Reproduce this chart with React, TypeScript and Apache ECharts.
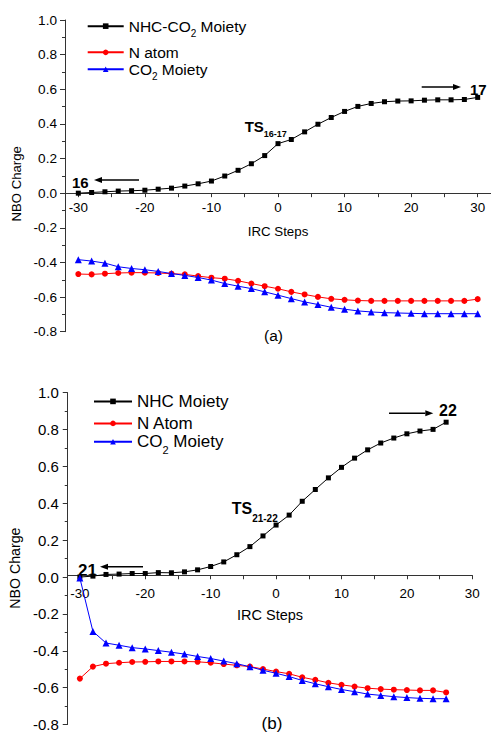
import React, { useEffect, useRef } from 'react';
import * as echarts from 'echarts';

// ---------- Data: panel (a) ----------
const stepsA = [-30, -28, -26, -24, -22, -20, -18, -16, -14, -12, -10, -8, -6, -4, -2, 0, 2, 4, 6, 8, 10, 12, 14, 16, 18, 20, 22, 24, 26, 28, 30];
const nhcA = [0.0, 0.004, 0.008, 0.012, 0.014, 0.017, 0.023, 0.029, 0.041, 0.054, 0.07, 0.099, 0.132, 0.17, 0.217, 0.286, 0.31, 0.354, 0.398, 0.437, 0.472, 0.501, 0.518, 0.528, 0.532, 0.533, 0.537, 0.539, 0.539, 0.541, 0.553];
const nAtomA = [-0.467, -0.469, -0.465, -0.461, -0.459, -0.459, -0.461, -0.465, -0.469, -0.479, -0.488, -0.494, -0.506, -0.522, -0.537, -0.552, -0.57, -0.585, -0.599, -0.61, -0.616, -0.62, -0.622, -0.622, -0.622, -0.622, -0.622, -0.622, -0.622, -0.622, -0.612];
const co2A = [-0.384, -0.392, -0.404, -0.425, -0.435, -0.442, -0.452, -0.464, -0.475, -0.487, -0.502, -0.522, -0.537, -0.551, -0.57, -0.589, -0.609, -0.628, -0.643, -0.659, -0.67, -0.68, -0.686, -0.69, -0.692, -0.694, -0.696, -0.696, -0.696, -0.696, -0.696];

// ---------- Data: panel (b) ----------
const stepsB = [-30, -28, -26, -24, -22, -20, -18, -16, -14, -12, -10, -8, -6, -4, -2, 0, 2, 4, 6, 8, 10, 12, 14, 16, 18, 20, 22, 24, 26];
const nhcB = [0.0, 0.005, 0.014, 0.016, 0.019, 0.019, 0.024, 0.023, 0.028, 0.039, 0.057, 0.082, 0.121, 0.165, 0.223, 0.282, 0.336, 0.411, 0.475, 0.538, 0.595, 0.645, 0.69, 0.727, 0.754, 0.777, 0.792, 0.801, 0.84];
const nAtomB = [-0.551, -0.486, -0.47, -0.465, -0.461, -0.46, -0.458, -0.458, -0.458, -0.46, -0.465, -0.472, -0.479, -0.486, -0.499, -0.513, -0.525, -0.544, -0.558, -0.574, -0.585, -0.594, -0.603, -0.608, -0.611, -0.613, -0.615, -0.615, -0.626];
const co2B = [-0.005, -0.295, -0.358, -0.37, -0.383, -0.39, -0.399, -0.408, -0.418, -0.431, -0.442, -0.456, -0.47, -0.487, -0.506, -0.522, -0.54, -0.561, -0.579, -0.595, -0.61, -0.622, -0.635, -0.642, -0.649, -0.654, -0.658, -0.66, -0.66];

// ---------- Axis ticks / labels ----------
const xLabelValues = [-30, -20, -10, 0, 10, 20, 30];
const xTickValues = [-30, -25, -20, -15, -10, -5, 0, 5, 10, 15, 20, 25, 30];
const yMin = -0.8;
const yMax = 1.0;
const yInterval = 0.2;

// ---------- Series names ----------
const seriesNamesA = ['a-nhc', 'a-n', 'a-co2'];
const seriesNamesB = ['b-nhc', 'b-n', 'b-co2'];
const legendLabels: Record<string, string> = {
  'a-nhc': '{m|NHC-CO}{s|2}{m| Moiety}',
  'a-n': '{m|N atom}',
  'a-co2': '{m|CO}{s|2}{m| Moiety}',
  'b-nhc': '{m|NHC Moiety}',
  'b-n': '{m|N Atom}',
  'b-co2': '{m|CO}{s|2}{m| Moiety}',
};

const FONT = 'Liberation Sans, Arial, Helvetica, sans-serif';
const AXIS_COLOR = '#333';
const COLORS = ['#000000', '#ff0000', '#0000ff'];
const SYMBOLS = ['rect', 'circle', 'triangle'];
const SYMBOL_SIZES = [5, 6, 7];

// grid geometry
const GRID_A = { left: 65, top: 20, width: 426, height: 311.7 };
const GRID_B = { left: 61.7, top: 392.7, width: 410.6, height: 335.8 };

function fmtY(v: number) {
  if (Math.abs(v) < 1e-9) return '0.0';
  return v.toFixed(1);
}

// distance (px) from grid bottom up to the y = 0 line
function zeroOffset(height: number) {
  return -height * (0 - yMin) / (yMax - yMin);
}

function makeXAxis(gridIndex: number, min: number, max: number, gridHeight: number, labelSize: number, margin: number, nameSize: number, nameGap: number) {
  return {
    gridIndex,
    type: 'value',
    position: 'bottom',
    offset: zeroOffset(gridHeight),
    min,
    max,
    axisLine: { show: true, onZero: false, lineStyle: { color: AXIS_COLOR, width: 1 } },
    axisTick: { show: true, customValues: xTickValues, length: 4, lineStyle: { color: AXIS_COLOR, width: 1 } },
    axisLabel: { customValues: xLabelValues, margin, fontSize: labelSize, color: '#000', fontFamily: FONT },
    splitLine: { show: false },
    name: 'IRC Steps',
    nameLocation: 'middle',
    nameGap,
    nameTextStyle: { fontSize: nameSize, color: '#000', fontFamily: FONT },
  };
}

function makeYAxis(gridIndex: number, labelSize: number, margin: number, nameSize: number, nameGap: number, shift: number) {
  return {
    gridIndex,
    type: 'value',
    min: yMin,
    max: yMax,
    interval: yInterval,
    axisLine: { show: true, onZero: false, lineStyle: { color: AXIS_COLOR, width: 1 } },
    axisTick: { show: true, length: 5, lineStyle: { color: AXIS_COLOR, width: 1 } },
    minorTick: { show: true, splitNumber: 2, length: 3, lineStyle: { color: AXIS_COLOR, width: 1 } },
    axisLabel: { formatter: fmtY, margin, fontSize: labelSize, color: '#000', fontFamily: FONT },
    splitLine: { show: false },
    minorSplitLine: { show: false },
    name: 'NBO Charge',
    nameLocation: 'middle',
    nameGap,
    nameTextStyle: { fontSize: nameSize, color: '#000', fontFamily: FONT, padding: [0, shift * 2, 0, 0] },
  };
}

function makeSeries(names: string[], steps: number[], lists: number[][], axisIndex: number) {
  return lists.map((vals, k) => ({
    name: names[k],
    type: 'line',
    xAxisIndex: axisIndex,
    yAxisIndex: axisIndex,
    data: steps.map((x, i) => [x, vals[i]]),
    symbol: SYMBOLS[k],
    symbolSize: SYMBOL_SIZES[k],
    showSymbol: true,
    lineStyle: { color: COLORS[k], width: 1 },
    itemStyle: { color: COLORS[k] },
    emphasis: { disabled: true },
    z: 2 + k,
  }));
}

function makeLegend(name: string, left: number, top: number, width: number, size: number, subSize: number, subPad: number) {
  return {
    data: [name],
    left,
    top,
    orient: 'vertical',
    padding: 0,
    itemGap: 0,
    itemWidth: width,
    itemHeight: 7,
    selectedMode: false,
    formatter: (n: string) => legendLabels[n],
    textStyle: {
      color: '#000',
      fontFamily: FONT,
      fontSize: size,
      rich: {
        m: { fontSize: size, lineHeight: size, verticalAlign: 'top', color: '#000', fontFamily: FONT },
        s: { fontSize: subSize, lineHeight: subSize, verticalAlign: 'top', padding: [subPad, 0, 0, 0], color: '#000', fontFamily: FONT },
      },
    },
  };
}

function arrow(x1: number, x2: number, y: number, dir: number) {
  const tip = x2;
  const back = tip - dir * 8;
  return [
    { type: 'line', shape: { x1, y1: y, x2: back, y2: y }, style: { stroke: '#000', lineWidth: 1.5 } },
    { type: 'polygon', shape: { points: [[tip, y], [back, y - 3], [back, y + 3]] }, style: { fill: '#000' } },
  ];
}

function boldText(text: string, x: number, y: number, size: number) {
  return {
    type: 'text',
    x,
    y,
    style: { text, fontSize: size, fontWeight: 'bold', fill: '#000', fontFamily: FONT, align: 'left', verticalAlign: 'middle' },
  };
}

function tsText(main: string, sub: string, x: number, y: number, size: number, subSize: number, subPad: number) {
  return {
    type: 'text',
    x,
    y,
    style: {
      text: `{m|${main}}{s|${sub}}`,
      fill: '#000',
      fontFamily: FONT,
      align: 'left',
      verticalAlign: 'top',
      rich: {
        m: { fontSize: size, lineHeight: size, fontWeight: 'bold', verticalAlign: 'top', fill: '#000', fontFamily: FONT },
        s: { fontSize: subSize, lineHeight: subSize, fontWeight: 'bold', verticalAlign: 'top', padding: [subPad, 0, 0, 0], fill: '#000', fontFamily: FONT },
      },
    },
  };
}

function centerText(text: string, x: number, y: number, size: number) {
  return {
    type: 'text',
    x,
    y,
    style: { text, fontSize: size, fill: '#000', fontFamily: FONT, align: 'center', verticalAlign: 'middle' },
  };
}

export default function App() {
  const ref = useRef<HTMLDivElement>(null);

  useEffect(() => {
    if (!ref.current) return;
    const chart = echarts.init(ref.current, undefined, { renderer: 'svg' });
    const option: any = {
      animation: false,
      backgroundColor: '#ffffff',
      textStyle: { fontFamily: FONT },
      grid: [
        { ...GRID_A, containLabel: false },
        { ...GRID_B, containLabel: false },
      ],
      xAxis: [
        makeXAxis(0, -32, 32, GRID_A.height, 13.4, 8, 13.3, 32),
        makeXAxis(1, -31.85, 30, GRID_B.height, 13.4, 12, 14.5, 32),
      ],
      yAxis: [
        makeYAxis(0, 13.6, 8, 13.2, 40, 8),
        makeYAxis(1, 15, 9, 14.2, 38, 9.5),
      ],
      legend: [
        makeLegend('a-nhc', 86.7, 18.4, 36, 15.5, 10, 10),
        makeLegend('a-n', 86.7, 44.6, 36, 15.5, 10, 10),
        makeLegend('a-co2', 86.7, 61.5, 36, 15.5, 10, 10),
        makeLegend('b-nhc', 93, 392.9, 38, 17, 11, 11),
        makeLegend('b-n', 93, 414.9, 38, 17, 11, 11),
        makeLegend('b-co2', 93, 433.2, 38, 17, 11, 11),
      ],
      series: [
        ...makeSeries(seriesNamesA, stepsA, [nhcA, nAtomA, co2A], 0),
        ...makeSeries(seriesNamesB, stepsB, [nhcB, nAtomB, co2B], 1),
      ],
      graphic: [
        boldText('16', 72, 182, 15),
        ...arrow(139, 94, 180, -1),
        boldText('17', 470, 89, 15),
        ...arrow(421.7, 461, 87, 1),
        tsText('TS', '16-17', 244.7, 118.5, 15, 9, 11),
        centerText('(a)', 273.5, 335, 15.5),
        boldText('21', 78, 570, 17),
        ...arrow(143, 100, 566.7, -1),
        boldText('22', 439, 410, 16),
        ...arrow(389, 433.3, 413.3, 1),
        tsText('TS', '21-22', 231.7, 500.3, 16, 10, 13),
        centerText('(b)', 272, 723.3, 17),
      ],
    };
    chart.setOption(option);
    return () => {
      chart.dispose();
    };
  }, []);

  return (
    <div
      ref={ref}
      style={{ position: 'fixed', left: 0, top: 0, width: 491, height: 732, background: '#fff' }}
    />
  );
}
